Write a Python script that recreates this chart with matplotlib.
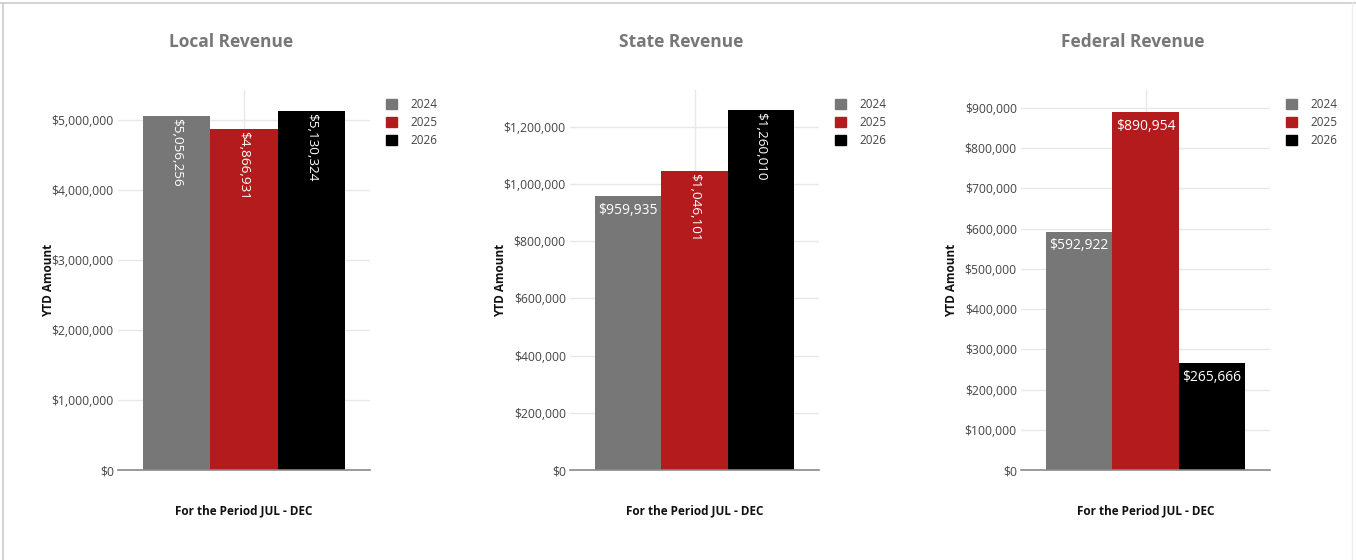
import matplotlib
matplotlib.use("Agg")
import matplotlib.pyplot as plt
from matplotlib.lines import Line2D
from matplotlib.ticker import FuncFormatter

plt.rcParams['font.family'] = ['Open Sans', 'DejaVu Sans']

# ---- data ----
years = ["2024", "2025", "2026"]
local_vals = [5056256, 4866931, 5130324]
state_vals = [959935, 1046101, 1260010]
federal_vals = [592922, 890954, 265666]

titles = ["Local Revenue", "State Revenue", "Federal Revenue"]
x_label = "For the Period JUL - DEC"
y_label = "YTD Amount"

local_ticks = [0, 1000000, 2000000, 3000000, 4000000, 5000000]
state_ticks = [0, 200000, 400000, 600000, 800000, 1000000, 1200000]
federal_ticks = [0, 100000, 200000, 300000, 400000, 500000, 600000, 700000, 800000, 900000]

# ---- style ----
colors = ["#777777", "#b31b1d", "#000000"]
W, H = 1356, 560
# (left px, right px, ymax, vertical labels per bar)
panels = [
    (local_vals, local_ticks, 118, 370, 5428600, [True, True, True]),
    (state_vals, state_ticks, 570, 819, 1329400, [False, True, True]),
    (federal_vals, federal_ticks, 1021, 1270, 944800, [False, False, False]),
]
top_px, bot_px = 90, 470

fig = plt.figure(figsize=(W / 100, H / 100), dpi=100)
fig.patch.set_facecolor("white")

money = FuncFormatter(lambda v, p: "${:,.0f}".format(v))

for i, (vals, ticks, lpx, rpx, ymax, vert) in enumerate(panels):
    ax = fig.add_axes([lpx / W, (H - bot_px) / H, (rpx - lpx) / W, (bot_px - top_px) / H])
    bw = 0.8 / 3
    xs = [(-1 + k) * bw for k in range(3)]
    ax.bar(xs, vals, width=bw, color=colors, zorder=2)
    ax.set_xlim(-0.5, 0.5)
    ax.set_ylim(0, ymax)
    ax.set_yticks(ticks)
    ax.yaxis.set_major_formatter(money)
    ax.set_xticks([0])
    ax.set_xticklabels([])
    ax.tick_params(axis="x", length=0)
    ax.tick_params(axis="y", length=0, labelsize=8.7, labelcolor="#444444", pad=3)
    ax.grid(True, color="#e8e8e8", linewidth=1, zorder=0)
    for s in ["top", "right", "left"]:
        ax.spines[s].set_visible(False)
    ax.spines["bottom"].set_color("#8a8a8a")
    ax.spines["bottom"].set_linewidth(1.2)
    ax.spines["bottom"].set_zorder(3)

    # value labels inside bars
    for x, v, rot in zip(xs, vals, vert):
        txt = "${:,.0f}".format(v)
        if rot:
            ax.annotate(txt, (x, v), xytext=(0, -1.5), textcoords="offset points",
                        rotation=270, ha="center", va="top", color="white",
                        fontsize=9.7, zorder=4)
        else:
            ax.annotate(txt, (x, v), xytext=(0, -5), textcoords="offset points",
                        ha="center", va="top", color="white",
                        fontsize=10, zorder=4)

    cx = (lpx + rpx) / 2
    fig.text((cx - 13) / W, 1 - 42 / H, titles[i], ha="center", va="center",
             fontsize=12.5, fontweight="bold", color="#777777")
    fig.text(cx / W, 1 - 511 / H, x_label, ha="center", va="center",
             fontsize=8.5, fontweight="bold", color="#111111")
    fig.text((lpx - 69) / W, 1 - 280 / H, y_label, ha="center", va="center",
             rotation=90, fontsize=8.5, fontweight="bold", color="#111111")

    # legend
    handles = [plt.Rectangle((0, 0), 1, 1, color=c) for c in colors]
    ax.legend(handles, years, loc="upper left",
              bbox_to_anchor=((rpx + 16) / W, 1 - 98 / H),
              bbox_transform=fig.transFigure, frameon=False,
              fontsize=8.5, handlelength=0.9, handleheight=0.9,
              handletextpad=1.2, labelspacing=0.42, borderpad=0,
              borderaxespad=0, labelcolor="#444444")

# outer border
fig.add_artist(Line2D([0, 1], [1 - 3 / H, 1 - 3 / H], transform=fig.transFigure,
                      color="#cccccc", linewidth=1.2))
fig.add_artist(Line2D([3 / W, 3 / W], [0, 1 - 3 / H], transform=fig.transFigure,
                      color="#cccccc", linewidth=1.2))
fig.add_artist(Line2D([1 - 4 / W, 1 - 4 / W], [0, 1 - 3 / H], transform=fig.transFigure,
                      color="#eeeeee", linewidth=1))

fig.savefig("out.png", dpi=100)
